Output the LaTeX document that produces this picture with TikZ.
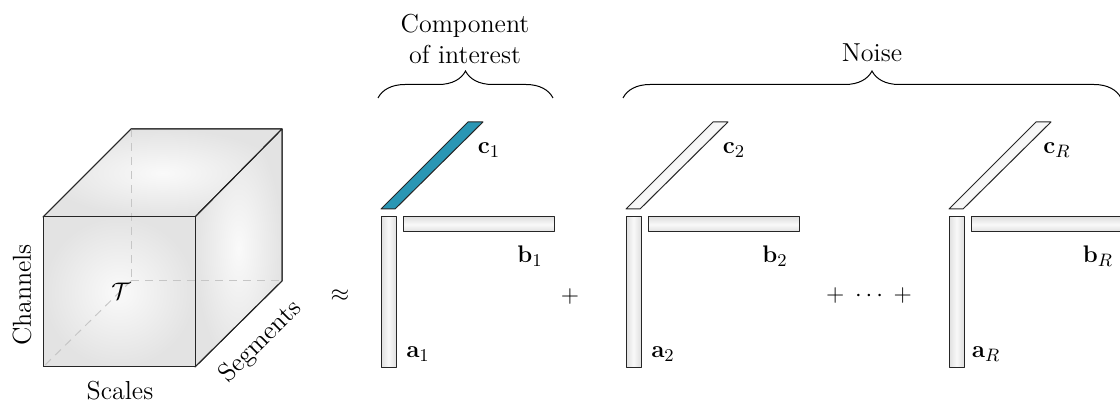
\documentclass[tikz,border=0pt]{standalone}
\usetikzlibrary{decorations.pathreplacing}
\definecolor{compblue}{RGB}{42,150,180}
\begin{document}
\begin{tikzpicture}[x=0.5pt,y=-0.5pt,
  font=\fontsize{13}{15.5}\selectfont,
  edge/.style={draw=black!85, line width=0.5pt, line join=round},
  face/.style={edge, inner color=gray!4, outer color=gray!22},
  hidden/.style={draw=gray!45, line width=0.5pt, dashed, dash pattern=on 4pt off 3pt},
  vbar/.style={edge, left color=gray!25, right color=gray!25, middle color=gray!5},
  hbar/.style={edge, top color=gray!25, bottom color=gray!25, middle color=gray!5},
  cgray/.style={edge, top color=gray!30, bottom color=gray!30, middle color=gray!5, shading angle=45},
  cblue/.style={edge, fill=compblue},
  brace/.style={decorate, decoration={brace, amplitude=13.5pt}, line width=0.5pt},
  lbl/.style={inner sep=0pt}]
\useasboundingbox (0,0) rectangle (1120,405);

% cube
\coordinate (F1) at (43,217); \coordinate (F2) at (195,217);
\coordinate (F3) at (195,367); \coordinate (F4) at (43,367);
\coordinate (B1) at (131,129); \coordinate (B2) at (282,129);
\coordinate (B3) at (282,281); \coordinate (B4) at (131,281);
\path[face] (F1) -- (F2) -- (B2) -- (B1) -- cycle;
\path[face] (F2) -- (B2) -- (B3) -- (F3) -- cycle;
\path[face] (F1) -- (F2) -- (F3) -- (F4) -- cycle;
\draw[hidden] (B1) -- (B4);
\draw[hidden] (B4) -- (B3);
\draw[hidden] (B4) -- (F4);
\draw[edge] (F1) -- (F2) -- (F3) -- (F4) -- cycle;
\draw[edge] (F1) -- (B1) -- (B2) -- (F2);
\draw[edge] (B2) -- (B3) -- (F3);

\node[lbl] (T) at (121,291) {$\mathcal{T}$};
\node[lbl, rotate=90] (channels) at (22,295) {Channels};
\node[lbl] (scales) at (120,391) {Scales};
\node[lbl, rotate=45] (segments) at (261,342) {Segments};

\node[lbl] (approx) at (340,296) {$\approx$};
\node[lbl] (plus1) at (570,297) {$+$};
\node[lbl] (plus2) at (869,296) {$+\;\cdots\;+$};

% components
\foreach \o/\s/\cs in {0/1/cblue, 245/2/cgray, 568/R/cgray}{
  \draw[\cs] ({\o+381},209) -- ({\o+395},209) -- ({\o+483},122) -- ({\o+468},122) -- cycle;
  \draw[vbar] ({\o+381},217) rectangle ({\o+396},368);
  \draw[hbar] ({\o+403},217) rectangle ({\o+554},232);
  \node[lbl] (c\s) at ({\o+489},150) {$\mathbf{c}_{\s}$};
  \node[lbl] (b\s) at ({\o+530},256) {$\mathbf{b}_{\s}$};
  \node[lbl] (a\s) at ({\o+418},354) {$\mathbf{a}_{\s}$};
}

% braces
\coordinate (br1l) at (378,98); \coordinate (br1r) at (553,98);
\coordinate (br2l) at (623,98); \coordinate (br2r) at (1121,98);
\draw[brace] (br1l) -- (br1r);
\draw[brace] (br2l) -- (br2r);
\node[align=center, inner sep=0pt] (interest) at (465,39) {Component\\of interest};
\node[lbl] (noise) at (872,53) {Noise};
\end{tikzpicture}
\end{document}
